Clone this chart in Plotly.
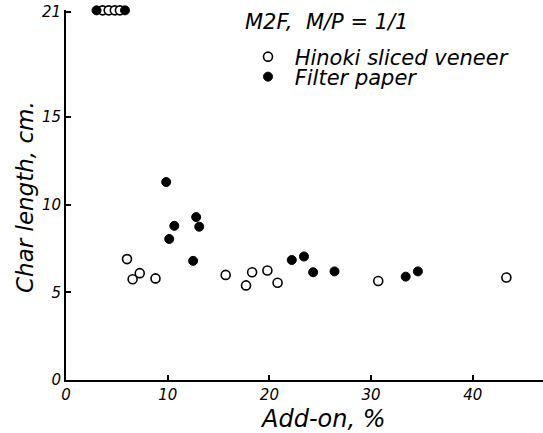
import plotly.graph_objects as go

# Hinoki sliced veneer (open circles)
hinoki_x = [3.6, 4.2, 4.8, 5.3, 6.0, 6.55, 7.25, 8.8, 15.7, 17.7, 18.3, 19.8, 20.8, 30.7, 43.3]
hinoki_y = [21.1, 21.1, 21.1, 21.1, 6.9, 5.75, 6.1, 5.8, 6.0, 5.4, 6.15, 6.25, 5.55, 5.65, 5.85]

# Filter paper (filled circles)
filter_x = [3.0, 5.8, 9.85, 10.15, 10.65, 12.5, 12.8, 13.1, 22.2, 23.4, 24.3, 26.4, 33.4, 34.6]
filter_y = [21.1, 21.1, 11.3, 8.05, 8.8, 6.8, 9.3, 8.75, 6.85, 7.05, 6.15, 6.2, 5.9, 6.2]

x_ticks = [0, 10, 20, 30, 40]
y_ticks = [0, 5, 10, 15, 21]

FONT = "DejaVu Sans"
W, H = 543, 433
L, R, T, B = 66, 0, 10, 53
PW, PH = W - L - R, H - T - B


def px_x(p):
    return (p - L) / PW


def px_y(p):
    return (H - B - p) / PH


fig = go.Figure()
fig.add_trace(go.Scatter(
    x=hinoki_x, y=hinoki_y, mode="markers", name="\u00a0Hinoki sliced veneer",
    marker=dict(symbol="circle", size=9, color="white", line=dict(color="black", width=1.6)),
    cliponaxis=False, legend="legend",
))
fig.add_trace(go.Scatter(
    x=filter_x, y=filter_y, mode="markers", name="\u00a0Filter paper",
    marker=dict(symbol="circle", size=9, color="black", line=dict(color="black", width=1)),
    cliponaxis=False, legend="legend2",
))

legend_common = dict(xanchor="left", yanchor="middle",
                     font=dict(family=FONT, size=21, color="black", style="italic"),
                     bgcolor="rgba(0,0,0,0)", borderwidth=0, itemwidth=30)

fig.update_layout(
    width=W, height=H,
    margin=dict(l=L, r=R, t=T, b=B, autoexpand=False),
    paper_bgcolor="white", plot_bgcolor="white",
    font=dict(family=FONT, size=15, color="black", style="italic"),
    showlegend=True,
    legend=dict(x=px_x(248), y=px_y(57), **legend_common),
    legend2=dict(x=px_x(248), y=px_y(77), **legend_common),
    xaxis=dict(range=[0, 46.9], showline=True, linecolor="black", linewidth=2,
               ticks="inside", ticklen=5, tickwidth=1.5, tickcolor="black",
               tickvals=x_ticks, ticktext=[str(v) for v in x_ticks],
               showgrid=False, zeroline=False,
               tickfont=dict(size=15, style="italic")),
    yaxis=dict(range=[0, 21.12], showline=True, linecolor="black", linewidth=2,
               ticks="inside", ticklen=5, tickwidth=1.5, tickcolor="black",
               tickvals=y_ticks, ticktext=[str(v) for v in y_ticks],
               showgrid=False, zeroline=False,
               tickfont=dict(size=15, style="italic")),
)
fig.add_annotation(text="M2F,  M/P = 1/1", xref="paper", yref="paper",
                   x=px_x(243), y=px_y(22), xanchor="left", yanchor="middle",
                   showarrow=False, font=dict(size=21, style="italic", family=FONT))
fig.add_annotation(text="Add-on, %", xref="paper", yref="paper",
                   x=px_x(323), y=px_y(419), xanchor="center", yanchor="middle",
                   showarrow=False, font=dict(size=24, style="italic", family=FONT))
fig.add_annotation(text="Char length, cm.", xref="paper", yref="paper",
                   x=px_x(25), y=px_y(197), xanchor="center", yanchor="middle",
                   textangle=-90,
                   showarrow=False, font=dict(size=23, style="italic", family=FONT))

fig.write_html("out.html", config={"displayModeBar": False},
               post_script="document.body.style.margin='0px';")
